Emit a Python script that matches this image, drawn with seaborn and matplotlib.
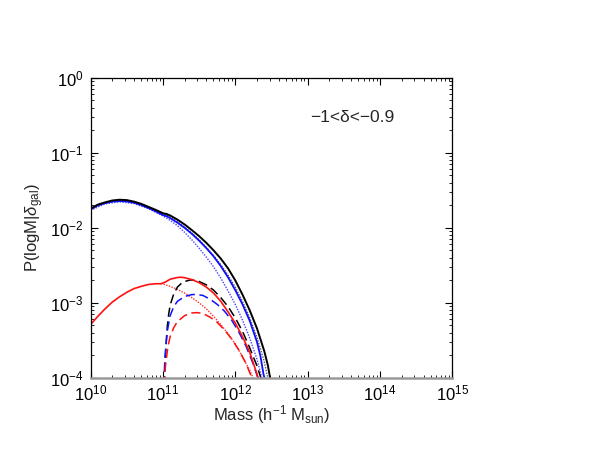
import numpy as np
import pandas as pd
import matplotlib
matplotlib.use("Agg")
import matplotlib.pyplot as plt
import seaborn as sns
from matplotlib.ticker import LogLocator, NullFormatter

# ---- data (log10 mass, log10 probability) ----
black_solid_logm = [10.0, 10.1, 10.2, 10.3, 10.4, 10.5, 10.6, 10.7, 10.8, 10.9, 11.0, 11.05, 11.1, 11.2, 11.3,
                    11.4, 11.5, 11.6, 11.7, 11.8, 11.9, 12.0, 12.1, 12.2, 12.3, 12.4, 12.45, 12.5]
black_solid_logp = [-1.745, -1.69, -1.66, -1.635, -1.625, -1.63, -1.65, -1.68, -1.72, -1.76, -1.805, -1.815, -1.835,
                    -1.89, -1.955, -2.03, -2.11, -2.20, -2.30, -2.41, -2.54, -2.70, -2.89, -3.10, -3.34, -3.64, -3.83, -4.1]

black_dot_logm = [10.0, 10.2, 10.4, 10.6, 10.8, 11.0, 11.1, 11.2, 11.3, 11.4, 11.5, 11.6, 11.7, 11.8, 11.9, 12.0,
                  12.1, 12.2, 12.3, 12.4, 12.46]
black_dot_logp = [-1.75, -1.665, -1.63, -1.655, -1.725, -1.81, -1.855, -1.92, -1.99, -2.07, -2.16, -2.26, -2.37,
                  -2.49, -2.63, -2.79, -2.98, -3.20, -3.46, -3.78, -4.05]

blue_solid_logm = [10.0, 10.1, 10.2, 10.3, 10.4, 10.5, 10.6, 10.7, 10.8, 10.9, 11.0, 11.05, 11.1, 11.2, 11.3, 11.4,
                   11.5, 11.6, 11.7, 11.8, 11.9, 12.0, 12.1, 12.2, 12.3, 12.35, 12.39, 12.43]
blue_solid_logp = [-1.755, -1.70, -1.67, -1.65, -1.643, -1.648, -1.665, -1.695, -1.735, -1.78, -1.83, -1.845, -1.87,
                   -1.93, -2.00, -2.08, -2.17, -2.27, -2.38, -2.51, -2.66, -2.83, -3.02, -3.24, -3.52, -3.72,
                   -3.95, -4.1]

blue_dot_logm = [10.0, 10.2, 10.4, 10.6, 10.8, 11.0, 11.1, 11.2, 11.3, 11.4, 11.5, 11.6, 11.7, 11.8, 11.9, 12.0,
                 12.1, 12.2, 12.3, 12.38]
blue_dot_logp = [-1.765, -1.68, -1.652, -1.675, -1.745, -1.84, -1.90, -1.97, -2.06, -2.16, -2.27, -2.39, -2.52,
                 -2.67, -2.84, -3.02, -3.23, -3.47, -3.75, -4.05]

red_solid_logm = [10.0, 10.1, 10.2, 10.3, 10.4, 10.5, 10.6, 10.7, 10.8, 10.9, 10.97, 11.03, 11.1, 11.2, 11.25,
                  11.3, 11.4, 11.5, 11.6, 11.7, 11.8, 11.9, 12.0, 12.1, 12.2, 12.3, 12.33]
red_solid_logp = [-3.29, -3.18, -3.08, -2.99, -2.92, -2.86, -2.81, -2.78, -2.755, -2.745, -2.745, -2.725, -2.685,
                  -2.662, -2.658, -2.665, -2.69, -2.73, -2.79, -2.87, -2.98, -3.12, -3.27, -3.45, -3.66, -3.95, -4.05]

red_dot_logm = [10.97, 11.0, 11.1, 11.2, 11.3, 11.4, 11.5, 11.6, 11.7, 11.8, 11.9, 12.0, 12.1, 12.2, 12.27]
red_dot_logp = [-2.745, -2.75, -2.78, -2.82, -2.87, -2.93, -3.00, -3.08, -3.18, -3.29, -3.41, -3.55, -3.72, -3.90,
                -4.05]

black_dash_logm = [11.02, 11.04, 11.06, 11.08, 11.1, 11.15, 11.2, 11.25, 11.3, 11.38, 11.45, 11.5, 11.6, 11.7,
                   11.8, 11.9, 12.0, 12.1, 12.2, 12.3, 12.37]
black_dash_logp = [-4.1, -3.6, -3.32, -3.15, -3.03, -2.88, -2.79, -2.745, -2.715, -2.695, -2.70, -2.715, -2.76,
                   -2.83, -2.93, -3.05, -3.20, -3.38, -3.60, -3.84, -4.05]

blue_dash_logm = [11.01, 11.03, 11.06, 11.1, 11.15, 11.2, 11.3, 11.4, 11.45, 11.55, 11.65, 11.75, 11.85, 11.95,
                  12.05, 12.15, 12.25, 12.33]
blue_dash_logp = [-4.1, -3.7, -3.38, -3.17, -3.05, -2.98, -2.915, -2.89, -2.888, -2.90, -2.95, -3.02, -3.11, -3.23,
                  -3.39, -3.58, -3.82, -4.05]

red_dash_logm = [11.01, 11.04, 11.07, 11.1, 11.15, 11.2, 11.3, 11.4, 11.47, 11.55, 11.65, 11.75, 11.85, 11.95,
                 12.05, 12.15, 12.25]
red_dash_logp = [-4.1, -3.8, -3.58, -3.45, -3.33, -3.25, -3.17, -3.135, -3.13, -3.14, -3.19, -3.26, -3.36, -3.48,
                 -3.63, -3.81, -4.05]

x_ticks_exp = [10, 11, 12, 13, 14, 15]
y_ticks_exp = [-4, -3, -2, -1, 0]
annotation = "\u22121<\u03b4<\u22120.9"

# ---- styling ----
sns.set_theme(style="ticks")
plt.rcParams["font.family"] = ["Liberation Sans", "DejaVu Sans"]
plt.rcParams["mathtext.fontset"] = "custom"
plt.rcParams["mathtext.rm"] = "Liberation Sans"
plt.rcParams["mathtext.it"] = "Liberation Sans:italic"
plt.rcParams["mathtext.bf"] = "Liberation Sans:bold"

fig = plt.figure(figsize=(5.92, 4.58), dpi=100)
ax = fig.add_axes([0.153, 0.175, 0.611, 0.655])

series = [
    (black_dot_logm, black_dot_logp, "#555555", (0, (1, 1)), 1.0),
    (blue_dot_logm, blue_dot_logp, "#4444ff", (0, (1, 1)), 1.0),
    (red_dot_logm, red_dot_logp, "#ff3030", (0, (1, 1)), 1.0),
    (black_dash_logm, black_dash_logp, "black", (0, (6, 3)), 1.1),
    (blue_dash_logm, blue_dash_logp, "#1010ff", (0, (6, 3)), 1.1),
    (red_dash_logm, red_dash_logp, "#ff1010", (0, (6, 3)), 1.1),
    (red_solid_logm, red_solid_logp, "#ff1010", "-", 1.2),
    (blue_solid_logm, blue_solid_logp, "#1010ff", "-", 1.3),
    (black_solid_logm, black_solid_logp, "black", "-", 1.4),
]

for lm, lp, col, ls, lw in series:
    df = pd.DataFrame({"mass": 10.0 ** np.asarray(lm), "prob": 10.0 ** np.asarray(lp)})
    sns.lineplot(data=df, x="mass", y="prob", ax=ax, color=col, linestyle=ls, linewidth=lw,
                 sort=False, estimator=None)

ax.set_xscale("log")
ax.set_yscale("log")
ax.set_xlim(10.0 ** x_ticks_exp[0], 10.0 ** x_ticks_exp[-1])
ax.set_ylim(10.0 ** y_ticks_exp[0], 10.0 ** y_ticks_exp[-1])

ax.set_xticks([10.0 ** e for e in x_ticks_exp])
ax.set_xticklabels([r"$10^{%d}$" % e for e in x_ticks_exp])
ax.set_yticks([10.0 ** e for e in y_ticks_exp])
ax.set_yticklabels([r"$10^{%d}$" % e for e in y_ticks_exp])
ax.xaxis.set_minor_locator(LogLocator(base=10, subs=np.arange(2, 10), numticks=20))
ax.yaxis.set_minor_locator(LogLocator(base=10, subs=np.arange(2, 10), numticks=20))
ax.xaxis.set_minor_formatter(NullFormatter())
ax.yaxis.set_minor_formatter(NullFormatter())

ax.tick_params(which="both", direction="in", top=True, right=True, colors="black", labelsize=12)
ax.tick_params(which="major", length=5, width=0.8)
ax.tick_params(which="minor", length=2.5, width=0.6)
ax.tick_params(axis="x", pad=4)
ax.tick_params(axis="y", pad=5)

for side in ["top", "right", "left"]:
    ax.spines[side].set_visible(True)
    ax.spines[side].set_color("black")
    ax.spines[side].set_linewidth(0.9)
ax.spines["bottom"].set_color("#999999")
ax.spines["bottom"].set_linewidth(1.8)

ax.set_xlabel(r"Mass (h$^{-1}$ M$_{\rm sun}$)", fontsize=12, labelpad=0)
ax.set_ylabel(r"P(logM|$\delta_{\rm gal}$)", fontsize=12, labelpad=3)

ax.text(10.0 ** 13.62, 10.0 ** -0.53, annotation, fontsize=12.5, ha="center", va="center")

fig.savefig("out.png", dpi=100)
